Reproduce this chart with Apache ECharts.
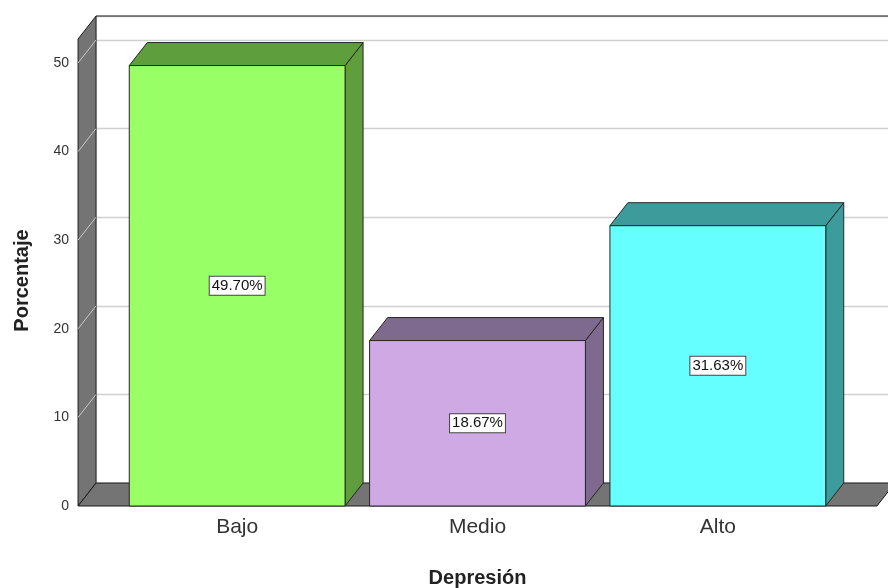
<!DOCTYPE html>
<html>
<head>
<meta charset="utf-8">
<script src="https://cdn.jsdelivr.net/npm/echarts/dist/echarts.min.js"></script>
<style>
  html, body { margin: 0; padding: 0; background: #ffffff; }
  #chart { width: 888px; height: 588px; }
</style>
</head>
<body>
<div id="chart"></div>
<script>
// Depresión: distribution of levels (percent of respondents)
const categories = ['Bajo', 'Medio', 'Alto'];
const percentages = [49.70, 18.67, 31.63];
const yTicks = [0, 10, 20, 30, 40, 50];

const frontColors = ['#99FF66', '#CFA9E4', '#66FFFF'];
const shadeColors = ['#5F9E3D', '#7E6A8E', '#3E9B9B'];

// 3D box geometry
const Y_MAX = 52.7;
const DX = 18;          // depth offset to the right
const DY = 23;          // depth offset upward
const BAR_FILL = 0.898; // bar width as share of a category band
const SIDE_PAD = 0.162; // floor overhang beyond the outer bands (in bands)
const FONT = '"Liberation Sans", Arial, sans-serif';

const chart = echarts.init(document.getElementById('chart'), null, { renderer: 'canvas' });

function renderFrame(params, api) {
  const cs = params.coordSys;
  const band = api.size([1, 0])[0];
  const x0 = cs.x - SIDE_PAD * band;
  const x1 = cs.x + cs.width + SIDE_PAD * band;
  const yBot = api.coord([0, 0])[1];
  const yTop = api.coord([0, Y_MAX])[1];
  const edge = { stroke: '#1a1a1a', lineWidth: 1 };
  const children = [
    { type: 'polygon',
      shape: { points: [[x0, yTop], [x0 + DX, yTop - DY], [x0 + DX, yBot - DY], [x0, yBot]] },
      style: Object.assign({ fill: '#747474' }, edge) },
    { type: 'polygon',
      shape: { points: [[x0, yBot], [x0 + DX, yBot - DY], [x1 + DX, yBot - DY], [x1, yBot]] },
      style: Object.assign({ fill: '#747474' }, edge) },
    { type: 'line',
      shape: { x1: x0 + DX, y1: yTop - DY, x2: x1 + DX, y2: yTop - DY },
      style: { stroke: '#1a1a1a', lineWidth: 1.2 } }
  ];
  yTicks.forEach(function (v) {
    if (v === 0) return;
    const y = api.coord([0, v])[1];
    children.push({ type: 'line',
      shape: { x1: x0, y1: y, x2: x0 + DX, y2: y - DY },
      style: { stroke: '#c8c8c8', lineWidth: 1 } });
  });
  return { type: 'group', children: children };
}

function renderBar(params, api) {
  const i = api.value(0);
  const v = api.value(1);
  const band = api.size([1, 0])[0];
  const w = band * BAR_FILL;
  const top = api.coord([i, v]);
  const base = api.coord([i, 0]);
  const mid = api.coord([i, v / 2]);
  const xl = top[0] - w / 2, xr = top[0] + w / 2;
  const yt = top[1], yb = base[1];
  const edge = { stroke: '#262626', lineWidth: 1 };
  return {
    type: 'group',
    children: [
      { type: 'polygon',
        shape: { points: [[xr, yt], [xr + DX, yt - DY], [xr + DX, yb - DY], [xr, yb]] },
        style: Object.assign({ fill: shadeColors[i] }, edge) },
      { type: 'polygon',
        shape: { points: [[xl, yt], [xl + DX, yt - DY], [xr + DX, yt - DY], [xr, yt]] },
        style: Object.assign({ fill: shadeColors[i] }, edge) },
      { type: 'rect',
        shape: { x: xl, y: yt, width: w, height: yb - yt },
        style: Object.assign({ fill: frontColors[i] }, edge) },
      { type: 'text',
        x: mid[0], y: mid[1],
        style: {
          text: v.toFixed(2) + '%',
          font: '15px ' + FONT,
          fill: '#111111',
          align: 'center',
          verticalAlign: 'middle',
          backgroundColor: '#ffffff',
          borderColor: '#444444',
          borderWidth: 1,
          padding: [2, 2, 1, 2]
        } }
    ]
  };
}

const option = {
  animation: false,
  backgroundColor: '#ffffff',
  grid: [
    // front plane (bars, axis labels)
    { left: 117, right: 50, top: 39, bottom: 82, outerBoundsMode: 'none', containLabel: false },
    // back wall (gridlines)
    { left: 96, right: 0, top: 16, bottom: 105, outerBoundsMode: 'none', containLabel: false }
  ],
  xAxis: [
    { type: 'category', gridIndex: 0, data: categories,
      axisLine: { show: false }, axisTick: { show: false },
      axisLabel: { fontSize: 21, color: '#333333', margin: 11, fontFamily: FONT },
      name: 'Depresión', nameLocation: 'middle', nameGap: 62,
      nameTextStyle: { fontSize: 20, fontWeight: 'bold', color: '#222222', fontFamily: FONT } },
    { type: 'value', gridIndex: 1, show: false, min: 0, max: 1 }
  ],
  yAxis: [
    { type: 'value', gridIndex: 0, min: 0, max: Y_MAX, interval: 10, offset: 39,
      axisLine: { show: false }, axisTick: { show: false }, splitLine: { show: false },
      axisLabel: { fontSize: 14, color: '#333333', margin: 9, showMaxLabel: false, fontFamily: FONT },
      name: 'Porcentaje', nameLocation: 'middle', nameRotate: 90, nameGap: 46,
      nameTextStyle: { fontSize: 20, fontWeight: 'bold', color: '#222222', fontFamily: FONT,
                       padding: [0, 16, 0, 0] } },
    { type: 'value', gridIndex: 1, min: 0, max: Y_MAX, interval: 10,
      axisLine: { show: false }, axisTick: { show: false }, axisLabel: { show: false },
      splitLine: { show: true, lineStyle: { color: '#d0d0d0', width: 1.3 } } }
  ],
  series: [
    { type: 'custom', name: 'frame', xAxisIndex: 0, yAxisIndex: 0, z: 1, clip: false,
      renderItem: renderFrame, data: [[0, 0]], silent: true },
    { type: 'custom', name: 'Porcentaje', xAxisIndex: 0, yAxisIndex: 0, z: 2, clip: false,
      renderItem: renderBar, encode: { x: 0, y: 1 },
      data: categories.map(function (c, i) { return [i, percentages[i]]; }) }
  ]
};

chart.setOption(option);
</script>
</body>
</html>
